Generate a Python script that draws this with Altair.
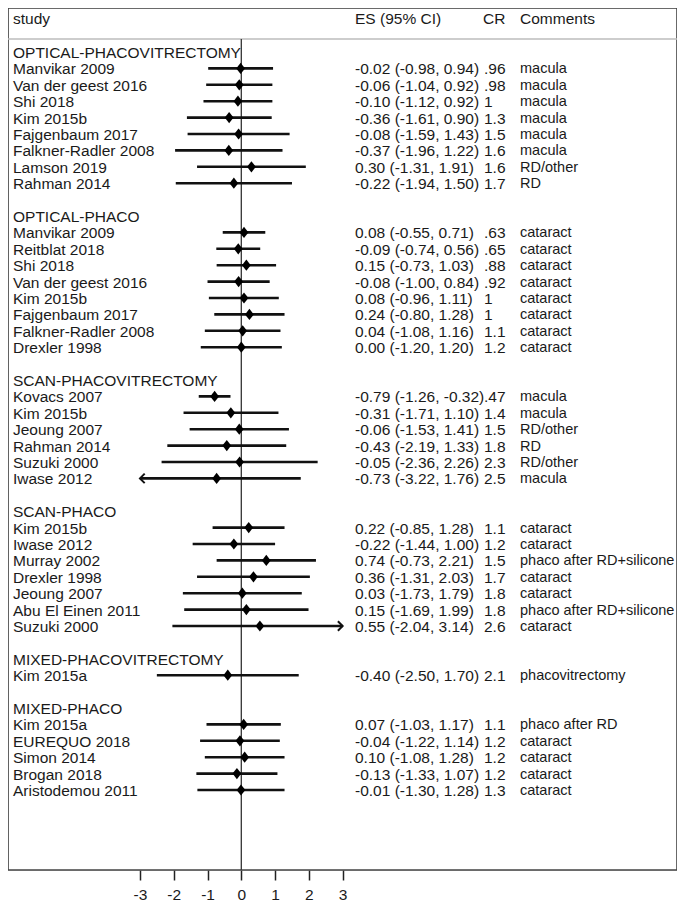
import altair as alt
import pandas as pd

# ---------------- data ----------------
groups = [
    "OPTICAL-PHACOVITRECTOMY",
    "OPTICAL-PHACO",
    "SCAN-PHACOVITRECTOMY",
    "SCAN-PHACO",
    "MIXED-PHACOVITRECTOMY",
    "MIXED-PHACO",
]

studies = [
    ["Manvikar 2009", "Van der geest 2016", "Shi 2018", "Kim 2015b", "Fajgenbaum 2017",
     "Falkner-Radler 2008", "Lamson 2019", "Rahman 2014"],
    ["Manvikar 2009", "Reitblat 2018", "Shi 2018", "Van der geest 2016", "Kim 2015b",
     "Fajgenbaum 2017", "Falkner-Radler 2008", "Drexler 1998"],
    ["Kovacs 2007", "Kim 2015b", "Jeoung 2007", "Rahman 2014", "Suzuki 2000", "Iwase 2012"],
    ["Kim 2015b", "Iwase 2012", "Murray 2002", "Drexler 1998", "Jeoung 2007",
     "Abu El Einen 2011", "Suzuki 2000"],
    ["Kim 2015a"],
    ["Kim 2015a", "EUREQUO 2018", "Simon 2014", "Brogan 2018", "Aristodemou 2011"],
]

es = [
    [-0.02, -0.06, -0.10, -0.36, -0.08, -0.37, 0.30, -0.22],
    [0.08, -0.09, 0.15, -0.08, 0.08, 0.24, 0.04, 0.00],
    [-0.79, -0.31, -0.06, -0.43, -0.05, -0.73],
    [0.22, -0.22, 0.74, 0.36, 0.03, 0.15, 0.55],
    [-0.40],
    [0.07, -0.04, 0.10, -0.13, -0.01],
]

lower = [
    [-0.98, -1.04, -1.12, -1.61, -1.59, -1.96, -1.31, -1.94],
    [-0.55, -0.74, -0.73, -1.00, -0.96, -0.80, -1.08, -1.20],
    [-1.26, -1.71, -1.53, -2.19, -2.36, -3.22],
    [-0.85, -1.44, -0.73, -1.31, -1.73, -1.69, -2.04],
    [-2.50],
    [-1.03, -1.22, -1.08, -1.33, -1.30],
]

upper = [
    [0.94, 0.92, 0.92, 0.90, 1.43, 1.22, 1.91, 1.50],
    [0.71, 0.56, 1.03, 0.84, 1.11, 1.28, 1.16, 1.20],
    [-0.32, 1.10, 1.41, 1.33, 2.26, 1.76],
    [1.28, 1.00, 2.21, 2.03, 1.79, 1.99, 3.14],
    [1.70],
    [1.17, 1.14, 1.28, 1.07, 1.28],
]

cr = [
    [".96", ".98", "1", "1.3", "1.5", "1.6", "1.6", "1.7"],
    [".63", ".65", ".88", ".92", "1", "1", "1.1", "1.2"],
    [".47", "1.4", "1.5", "1.8", "2.3", "2.5"],
    ["1.1", "1.2", "1.5", "1.7", "1.8", "1.8", "2.6"],
    ["2.1"],
    ["1.1", "1.2", "1.2", "1.2", "1.3"],
]

comments = [
    ["macula", "macula", "macula", "macula", "macula", "macula", "RD/other", "RD"],
    ["cataract"] * 8,
    ["macula", "macula", "RD/other", "RD", "RD/other", "macula"],
    ["cataract", "cataract", "phaco after RD+silicone", "cataract", "cataract",
     "phaco after RD+silicone", "cataract"],
    ["phacovitrectomy"],
    ["phaco after RD", "cataract", "cataract", "cataract", "cataract"],
]

axis_ticks = [-3, -2, -1, 0, 1, 2, 3]
header_labels = ["study", "ES (95% CI)", "CR", "Comments"]
clip_lo, clip_hi = -3, 3

# ---------------- table ----------------
rows = []
r = 0
for gi, g in enumerate(groups):
    rows.append(dict(row=r, label=g, es=None, lo=None, hi=None, estxt="", cr="", com=""))
    r += 1
    for si, s in enumerate(studies[gi]):
        e, lo, hi = es[gi][si], lower[gi][si], upper[gi][si]
        rows.append(dict(row=r, label=s, es=e, lo=lo, hi=hi,
                         estxt=f"{e:.2f} ({lo:.2f}, {hi:.2f})",
                         cr=cr[gi][si], com=comments[gi][si]))
        r += 1
    r += 1  # blank line between groups
df = pd.DataFrame(rows)
est = df.dropna(subset=["es"]).copy()
est["lo_c"] = est["lo"].clip(lower=clip_lo)
est["hi_c"] = est["hi"].clip(upper=clip_hi)
left_arrows = est[est["lo"] < clip_lo].assign(tip=clip_lo)
right_arrows = est[est["hi"] > clip_hi].assign(tip=clip_hi)

hdr = pd.DataFrame({"label": header_labels, "xpos": [5, 347, 475, 512]})

# ---------------- layout ----------------
W, H = 669, 862
PX_UNIT = 33.78
ZERO_PX = 233.3
ROW0, ROWH = 44.0, 16.4
xdom = [-ZERO_PX / PX_UNIT, (W - ZERO_PX) / PX_UNIT]
ydom = [-ROW0 / ROWH, (H - ROW0) / ROWH]
SEP_ROW = (31 - ROW0) / ROWH

FONT = "Liberation Sans"
FS = 15.5
TXT = "#1a1a1a"

xs = alt.Scale(domain=xdom, nice=False, zero=False)
ys = alt.Scale(domain=ydom, nice=False, zero=False, reverse=True)

X_AX = alt.Axis(values=axis_ticks, title=None, grid=False, domain=False,
                tickSize=10, tickWidth=1.5, tickColor="#222",
                labelFont=FONT, labelFontSize=FS, labelColor=TXT, labelPadding=7,
                labelExpr="datum.value + ''")

base = alt.Chart(est)

frame = alt.Chart(pd.DataFrame({"k": [0]})).mark_rect(
    filled=False, stroke="#444", strokeWidth=1.6
).encode(x=alt.value(0), x2=alt.value(W), y=alt.value(0), y2=alt.value(H))

sep = alt.Chart(pd.DataFrame({"y": [SEP_ROW]})).mark_rule(
    color="#bdbdbd", strokeWidth=1.5
).encode(y=alt.Y("y:Q", scale=ys, axis=None), x=alt.value(0), x2=alt.value(W))

null_line = alt.Chart(pd.DataFrame({"x": [0.0], "y": [SEP_ROW], "y2": [ydom[1]]})).mark_rule(
    color="#333", strokeWidth=1.3
).encode(x=alt.X("x:Q", scale=xs, axis=X_AX),
         y=alt.Y("y:Q", scale=ys, axis=None), y2="y2:Q")

ci = base.mark_rule(color="#111", strokeWidth=2.6).encode(
    x=alt.X("lo_c:Q", scale=xs, axis=X_AX), x2="hi_c:Q",
    y=alt.Y("row:Q", scale=ys, axis=None))

pts = base.mark_point(shape="M0,-1.15L0.9,0L0,1.15L-0.9,0Z", filled=True, opacity=1,
                      color="#000", size=95).encode(
    x=alt.X("es:Q", scale=xs), y=alt.Y("row:Q", scale=ys))

larr = alt.Chart(left_arrows).mark_point(shape="M1,-1L0,0L1,1", filled=False, opacity=1,
                                          color="#111", strokeWidth=2, size=90).encode(
    x=alt.X("tip:Q", scale=xs), y=alt.Y("row:Q", scale=ys))
rarr = alt.Chart(right_arrows).mark_point(shape="M-1,-1L0,0L-1,1", filled=False, opacity=1,
                                           color="#111", strokeWidth=2, size=90).encode(
    x=alt.X("tip:Q", scale=xs), y=alt.Y("row:Q", scale=ys))

def col_text(data, field, xpx, fs=FS):
    return alt.Chart(data).mark_text(align="left", baseline="middle", dy=1,
                                     font=FONT, fontSize=fs, color=TXT).encode(
        x=alt.value(xpx), y=alt.Y("row:Q", scale=ys), text=f"{field}:N")

labels = col_text(df, "label", 5)
estxt = col_text(est, "estxt", 347)
crtxt = col_text(est, "cr", 476)
comtxt = col_text(est, "com", 512, fs=14.5)

header = alt.Chart(hdr).mark_text(align="left", baseline="middle", dy=1,
                                  font=FONT, fontSize=FS, color=TXT).encode(
    x=alt.X("xpos:Q", scale=None), y=alt.value(10), text="label:N")

chart = alt.layer(frame, sep, null_line, ci, pts, larr, rarr, labels, estxt, crtxt, comtxt, header).properties(
    width=W, height=H,
    padding={"left": 0, "top": 0, "right": 0, "bottom": 32},
    autosize=alt.AutoSizeParams(type="none")
).configure_view(stroke=None).configure(background="white")

chart.save("out.html", embed_options={"renderer": "svg", "actions": False})
